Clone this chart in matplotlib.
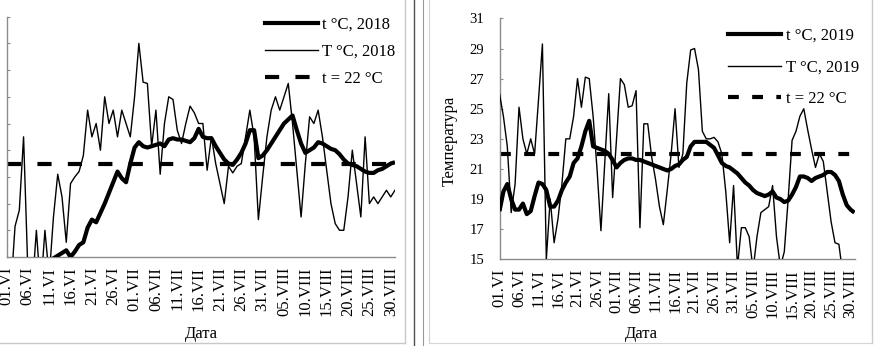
import matplotlib
matplotlib.use('Agg')
import matplotlib.pyplot as plt
from matplotlib.lines import Line2D
import numpy as np

plt.rcParams['font.family'] = ['Liberation Serif', 'DejaVu Serif']

# ---------------- data ----------------
date_labels = ["01.VI", "06.VI", "11.VI", "16.VI", "21.VI", "26.VI", "01.VII",
               "06.VII", "11.VII", "16.VII", "21.VII", "26.VII", "31.VII",
               "05.VIII", "10.VIII", "15.VIII", "20.VIII", "25.VIII", "30.VIII"]

# 2018: soil t (thick) and air T (thin), daily 01.VI .. 31.VIII
t_2018 = [14.2, 14.2, 14.3, 14.3, 14.4, 14.4, 14.5, 14.5, 14.6, 14.6, 14.7, 14.9,
          15.1, 15.3, 15.5, 15.0, 15.4, 15.9, 16.1, 17.2, 17.8, 17.6, 18.3, 19.0,
          19.8, 20.6, 21.4, 20.9, 20.6, 22.0, 23.2, 23.6, 23.3, 23.2, 23.3, 23.4,
          23.5, 23.3, 23.8, 23.9, 23.8, 23.8, 23.7, 23.6, 23.9, 24.6, 24.0, 23.9,
          23.9, 23.3, 22.8, 22.3, 22.0, 21.9, 22.3, 22.8, 23.5, 24.5, 24.5, 22.4,
          22.6, 23.0, 23.5, 24.0, 24.5, 25.0, 25.3, 25.6, 24.5, 23.5, 22.8, 23.0,
          23.2, 23.6, 23.5, 23.3, 23.1, 23.0, 22.7, 22.3, 22.0, 21.9, 21.8, 21.6,
          21.4, 21.3, 21.3, 21.5, 21.6, 21.8, 22.0, 22.1]
T_2018 = [12.0, 12.5, 17.3, 18.5, 24.0, 14.0, 12.5, 17.0, 12.5, 17.0, 13.5, 18.0,
          21.2, 19.5, 16.1, 20.5, 21.0, 21.4, 22.6, 26.0, 24.0, 25.0, 23.0, 27.0,
          25.0, 26.0, 24.0, 26.0, 25.0, 24.0, 27.0, 31.0, 28.1, 28.0, 23.3, 26.0,
          21.2, 25.0, 27.0, 26.8, 24.5, 23.5, 25.0, 26.3, 25.8, 25.0, 25.0, 21.5,
          24.0, 22.0, 20.5, 19.0, 21.8, 21.3, 21.8, 22.0, 24.0, 26.0, 24.0, 17.8,
          21.0, 24.0, 26.0, 27.0, 26.0, 27.0, 28.0, 25.0, 21.5, 18.0, 22.0, 25.5,
          25.0, 26.0, 24.0, 21.5, 19.0, 17.5, 17.0, 17.0, 19.5, 23.0, 20.5, 18.0,
          24.0, 19.0, 19.5, 19.0, 19.5, 20.0, 19.5, 20.0]

# 2019
t_2019 = [18.2, 19.5, 20.0, 19.0, 18.3, 18.3, 18.7, 18.0, 18.2, 19.2, 20.1, 20.0,
          19.6, 18.5, 18.5, 18.9, 19.6, 20.1, 20.5, 21.4, 21.7, 22.5, 23.5, 24.2,
          22.5, 22.4, 22.3, 22.2, 22.0, 21.6, 21.1, 21.4, 21.6, 21.7, 21.7, 21.6,
          21.6, 21.5, 21.4, 21.3, 21.2, 21.1, 21.0, 20.9, 21.0, 21.2, 21.3, 21.6,
          21.8, 22.5, 22.8, 22.8, 22.8, 22.8, 22.6, 22.4, 21.9, 21.4, 21.2, 21.1,
          20.9, 20.7, 20.4, 20.1, 19.9, 19.6, 19.4, 19.3, 19.2, 19.3, 19.5, 19.1,
          19.0, 18.8, 18.9, 19.3, 19.8, 20.5, 20.5, 20.4, 20.2, 20.4, 20.5, 20.6,
          20.8, 20.8, 20.6, 20.2, 19.3, 18.6, 18.3, 18.1]
T_2019 = [26.0, 24.5, 22.5, 18.1, 20.0, 25.1, 23.0, 22.0, 23.0, 22.0, 25.6, 29.3,
          15.0, 19.0, 16.1, 17.7, 20.0, 23.0, 23.0, 24.5, 27.0, 25.1, 27.1, 27.0,
          24.5, 21.0, 16.9, 21.5, 26.0, 19.1, 23.0, 27.0, 26.6, 25.1, 25.2, 26.2,
          17.1, 24.0, 24.0, 21.8, 20.3, 18.5, 17.3, 19.6, 22.0, 25.0, 21.1, 22.0,
          26.7, 28.9, 29.0, 27.6, 23.5, 23.0, 23.0, 23.1, 22.8, 22.0, 19.5, 16.1,
          19.9, 14.5, 17.1, 17.1, 16.5, 14.3, 16.5, 18.1, 18.3, 18.5, 19.9, 16.5,
          14.5, 15.5, 19.0, 22.9, 23.5, 24.5, 25.0, 23.6, 22.3, 21.1, 22.0, 21.5,
          19.5, 17.5, 16.1, 16.0, 14.0, 13.5, 13.5, 13.5]

threshold = 22
labels_2018 = ["t °C, 2018", "T °C, 2018", "t = 22 °C"]
labels_2019 = ["t °C, 2019", "T °C, 2019", "t = 22 °C"]
ylim_2018 = (15, 33)
ylim_2019 = (15, 31)
x_title = "Дата"
y_title = "Температура"

# ---------------- figure ----------------
W, H = 876, 346
fig = plt.figure(figsize=(W / 100, H / 100), dpi=100)
fig.patch.set_facecolor('white')


def px_axes(x0, x1, ytop, ybot):
    return fig.add_axes([x0 / W, 1 - ybot / H, (x1 - x0) / W, (ybot - ytop) / H])


def fig_line(xs, ys, color, lw):
    fig.add_artist(Line2D([x / W for x in xs], [1 - y / H for y in ys],
                          transform=fig.transFigure, color=color, lw=lw))


# panel frames
fig_line([405, 405], [0, 343], '#c9c9c9', 1.0)
fig_line([0, 405], [343, 343], '#c9c9c9', 1.0)
fig_line([414, 414], [0, 346], '#505050', 1.0)
fig_line([423, 423], [0, 346], '#9a9a9a', 0.8)
fig_line([429, 429], [0, 343], '#d0d0d0', 0.8)
fig_line([872, 872], [0, 343], '#c9c9c9', 1.0)
fig_line([429, 872], [343, 343], '#d6d6d6', 0.8)

AXIS_GRAY = '#8c8c8c'


def draw_panel(ax, thick, thin, ylim, labels, dash, show_ylabels, leg_xy, leg_spacing):
    days = np.arange(len(thick))
    ax.plot(days, thin, color='black', lw=1.0, solid_joinstyle='round', zorder=3)
    ax.plot(days, thick, color='black', lw=3.0, solid_joinstyle='round',
            solid_capstyle='butt', zorder=4)
    ax.plot(days, np.full(len(days), threshold), color='black', lw=3.0,
            dashes=dash, dash_capstyle='butt', zorder=2)
    ax.set_xlim(0, len(days) - 1)
    ax.set_ylim(*ylim)
    for s in ['top', 'right']:
        ax.spines[s].set_visible(False)
    for s in ['left', 'bottom']:
        ax.spines[s].set_color(AXIS_GRAY)
        ax.spines[s].set_linewidth(1.0)
    ax.set_xticks(days[::5])
    ax.set_xticklabels(date_labels, rotation=90, fontsize=12, va='top')
    ax.tick_params(axis='x', length=0, pad=7, colors='black')
    ax.set_yticks(np.arange(ylim[0], ylim[1] + 1, 2))
    ax.tick_params(axis='y', direction='in', length=2.3, width=0.8, color=AXIS_GRAY,
                   labelsize=10.5, pad=11, labelleft=show_ylabels, labelcolor='black')
    handles = [Line2D([], [], color='black', lw=3.0),
               Line2D([], [], color='black', lw=1.0),
               Line2D([], [], color='black', lw=3.0, dashes=dash, dash_capstyle='butt')]
    ax.legend(handles, labels, loc='upper left',
              bbox_to_anchor=(leg_xy[0] / W, 1 - leg_xy[1] / H),
              bbox_transform=fig.transFigure, frameon=False, borderpad=0,
              borderaxespad=0, handlelength=3.2, handletextpad=0.25,
              labelspacing=leg_spacing, fontsize=12)
    ax.set_facecolor('none')


ax1 = px_axes(6.5, 395, 16.7, 257)
draw_panel(ax1, t_2018, T_2018, ylim_2018, labels_2018, (3.4, 3.9), False,
           (265, 17), 0.65)

ax2 = px_axes(499.5, 854.5, 18.4, 259.3)
draw_panel(ax2, t_2019, T_2019, ylim_2019, labels_2019, (2.6, 3.2), True,
           (728, 28), 0.93)

fig.text(201 / W, 1 - 337.5 / H, x_title, ha='center', va='baseline', fontsize=12)
fig.text(641 / W, 1 - 337.5 / H, x_title, ha='center', va='baseline', fontsize=12)
fig.text(450 / W, 1 - 141 / H, y_title, ha='center', va='center', rotation=90,
         fontsize=12)

fig.savefig('out.png', dpi=100, facecolor='white')
